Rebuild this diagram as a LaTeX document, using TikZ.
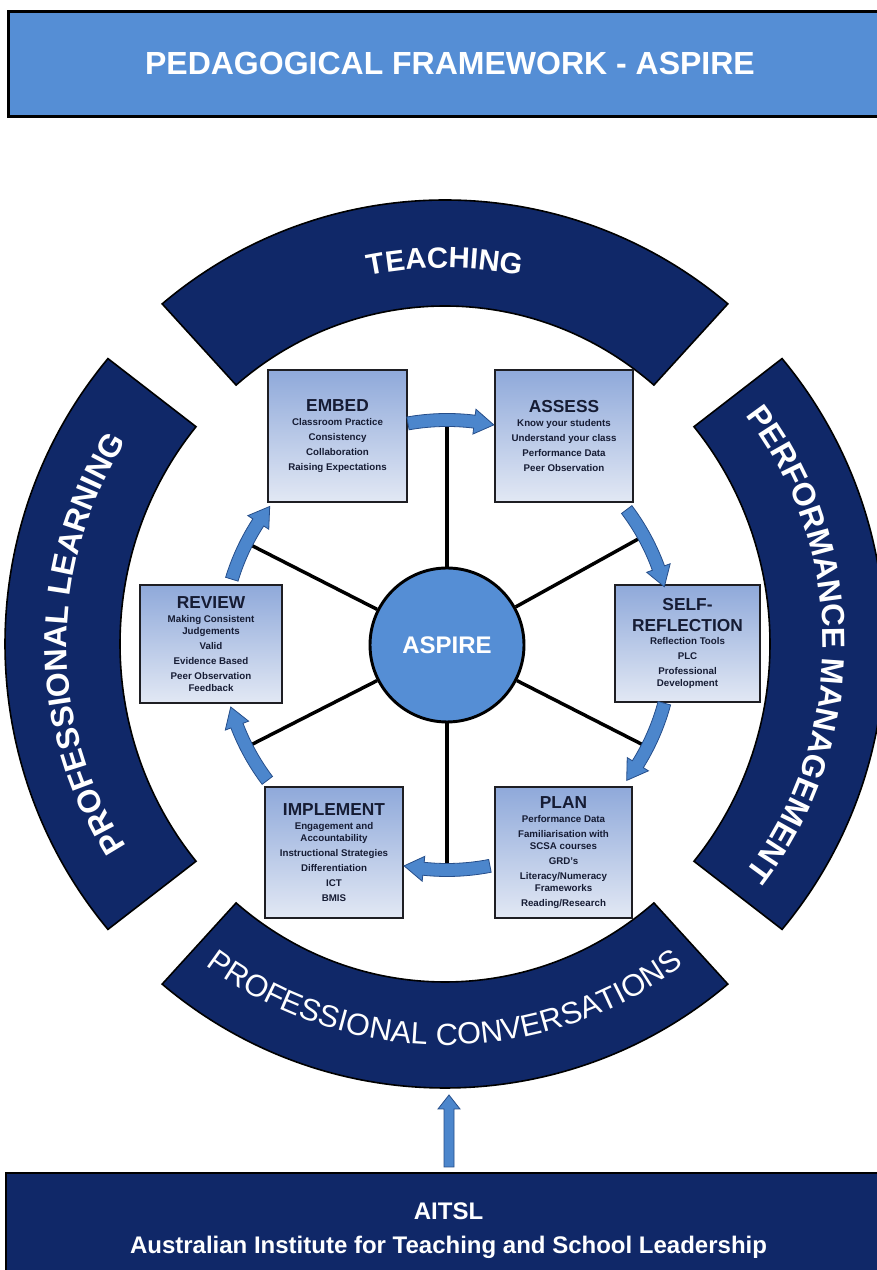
\documentclass[tikz,border=0pt]{standalone}
\usepackage{fontspec}
\setmainfont{Liberation Sans}
\usetikzlibrary{decorations.text}
\definecolor{titleblue}{RGB}{85,142,213}
\definecolor{navy}{RGB}{16,40,104}
\definecolor{boxtop}{RGB}{143,169,218}
\definecolor{boxbot}{RGB}{226,232,244}
\definecolor{boxline}{RGB}{30,30,35}
\definecolor{boxtext}{RGB}{22,28,52}
\definecolor{arrowblue}{RGB}{76,134,204}
\definecolor{arrowline}{RGB}{38,78,138}
\def\px{0.75pt}
\newcommand{\ringband}[2]{%
  \draw[band] (#1:440 and 444) arc[start angle=#1,end angle=#2,x radius=440,y radius=444]
    -- (#2:325 and 338) arc[start angle=#2,end angle=#1,x radius=325,y radius=338] -- cycle;}
\newcommand{\cycarrow}[2]{%
  \pgfmathsetmacro{\headang}{#2+5}%
  \draw[cycarr] (#1:231.5) arc[start angle=#1,end angle=\headang,radius=231.5]
    -- (\headang:237.5) -- (#2:225) -- (\headang:212.5) -- (\headang:218.5)
    arc[start angle=\headang,end angle=#1,radius=218.5] -- cycle;}
\begin{document}
\begin{tikzpicture}[x=0.75pt,y=0.75pt,
  band/.style={fill=navy,draw=black,line width=1.2pt},
  bandtext/.style={decorate,decoration={text along path,text align=center,text color=white}},
  stagebox/.style={rectangle,draw=boxline,line width=1.8pt,top color=boxtop,bottom color=boxbot,
    align=center,text=boxtext,font=\bfseries\fontsize{7.3}{9}\selectfont,inner sep=0pt},
  spoke/.style={line width=2.6pt,draw=black},
  cycarr/.style={fill=arrowblue,draw=arrowline,line width=0.6pt}
]
\useasboundingbox (0,0) rectangle (877,1270);
\fill[white] (0,0) rectangle (877,1270);

% outer ring
\begin{scope}[shift={(445,626)}]
  \ringband{50}{130}
  \ringband{140}{220}
  \ringband{230}{310}
  \ringband{-40}{40}
  \path[bandtext,decoration={text={|\bfseries\fontsize{22}{26}\selectfont|TEACHING}}]
    (130:378 and 376) arc[start angle=130,end angle=50,x radius=378,y radius=376];
  \path[bandtext,decoration={text={|\bfseries\fontsize{24}{28}\selectfont|PROFESSIONAL LEARNING}}]
    (218:378 and 376) arc[start angle=218,end angle=142,x radius=378,y radius=376];
  \path[bandtext,decoration={text={|\bfseries\fontsize{24}{28}\selectfont|PERFORMANCE MANAGEMENT}}]
    (39:378 and 376) arc[start angle=39,end angle=-39,x radius=378,y radius=376];
  \path[bandtext,decoration={text={|\fontsize{23}{27}\selectfont|PROFESSIONAL CONVERSATIONS}}]
    (230:399 and 401) arc[start angle=230,end angle=310,x radius=399,y radius=401];
\end{scope}

% title banner
\node (title) [draw=black,line width=2.2pt,fill=titleblue,anchor=north west,
  minimum width=883*\px,minimum height=105*\px,text=white,
  font=\bfseries\fontsize{24}{24}\selectfont] at (7,1260) {PEDAGOGICAL FRAMEWORK - ASPIRE};

% AITSL banner
\node (aitsl) [draw=black,line width=1.5pt,fill=navy,anchor=north west,
  minimum width=885*\px,minimum height=116*\px,text=white,align=center,
  font=\bfseries\fontsize{18}{25.5}\selectfont] at (5,98)
  {AITSL\\Australian Institute for Teaching and School Leadership};

% stage boxes
\node (embed) [stagebox,minimum width=139*\px,minimum height=132*\px] at (337.5,834)
  {{\fontsize{13}{13}\selectfont EMBED}\\[1pt]Classroom Practice\\[2.25pt]Consistency\\[2.25pt]Collaboration\\[2.25pt]Raising Expectations};
\node (assess) [stagebox,minimum width=138*\px,minimum height=132*\px] at (564,834)
  {{\fontsize{13}{13}\selectfont ASSESS}\\[1pt]Know your students\\[2.25pt]Understand your class\\[2.25pt]Performance Data\\[2.25pt]Peer Observation};
\node (self) [stagebox,minimum width=145*\px,minimum height=117*\px] at (687.5,626.5)
  {{\fontsize{13}{13}\selectfont SELF-}\\[5pt]{\fontsize{13}{13}\selectfont REFLECTION}\\[1pt]Reflection Tools\\[2.25pt]PLC\\[2.25pt]Professional\\Development};
\node (plan) [stagebox,minimum width=137*\px,minimum height=131*\px] at (563.5,417.5)
  {{\fontsize{13}{13}\selectfont PLAN}\\[1pt]Performance Data\\[2.25pt]Familiarisation with\\SCSA courses\\[2.25pt]GRD's\\[2.25pt]Literacy/Numeracy\\Frameworks\\[2.25pt]Reading/Research};
\node (implement) [stagebox,minimum width=138*\px,minimum height=131*\px] at (334,417.5)
  {{\fontsize{13}{13}\selectfont IMPLEMENT}\\[1pt]Engagement and\\Accountability\\[2.25pt]Instructional Strategies\\[2.25pt]Differentiation\\[2.25pt]ICT\\[2.25pt]BMIS};
\node (review) [stagebox,minimum width=142*\px,minimum height=118*\px] at (211,626)
  {{\fontsize{13}{13}\selectfont REVIEW}\\[1pt]Making Consistent\\Judgements\\[2.25pt]Valid\\[2.25pt]Evidence Based\\[2.25pt]Peer Observation\\Feedback};

% hub
\node (aspire) [circle,minimum size=154*\px,fill=titleblue,draw=black,line width=2.2pt,
  text=white,font=\bfseries\fontsize{18}{18}\selectfont] at (447,625) {ASPIRE};

% spokes and cycle arrows
\begin{scope}[shift={(447,625)}]
  \coordinate (sT) at (90:225);
  \coordinate (sUR) at (29:225);
  \coordinate (sLR) at (-27:225);
  \coordinate (sB) at (-90:224);
  \coordinate (sLL) at (207:225);
  \coordinate (sUL) at (153:225);
\end{scope}
\foreach \s in {sT,sUR,sLR,sB,sLL,sUL} \draw[spoke] (aspire) -- (\s);
\begin{scope}[shift={(447,625)}]
  \cycarrow{100}{78}
  \cycarrow{37}{15}
  \cycarrow{-15}{-37}
  \cycarrow{-79}{-101}
  \cycarrow{217}{196}
  \cycarrow{163}{142}
\end{scope}

% arrow from AITSL up to the ring
\coordinate (upbase) at (449,103);
\coordinate (uptip) at (449,175);
\draw[cycarr] (upbase) ++(-5,0) -- ++(0,58) -- ++(-6,0) -- (uptip) -- ++(11,-14) -- ++(-6,0) -- ++(0,-58) -- cycle;
\end{tikzpicture}
\end{document}
